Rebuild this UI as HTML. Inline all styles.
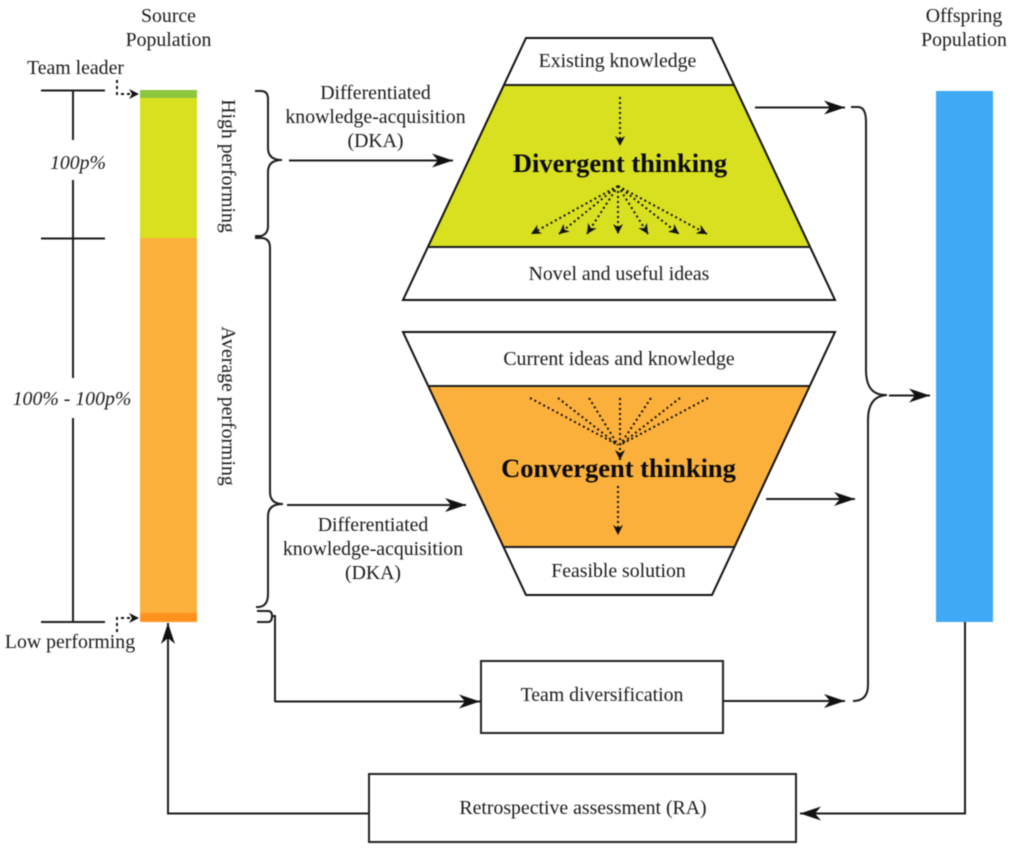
<!DOCTYPE html>
<html><head><meta charset="utf-8">
<style>
html,body{margin:0;padding:0;background:#fff;width:1017px;height:849px;overflow:hidden}
svg{display:block;filter:blur(0.45px)}
text{font-family:"Liberation Serif",serif;font-size:19.800px;fill:#1a1a1a;text-anchor:middle}
.b{font-weight:bold;font-size:26.500px;fill:#0a0a0a}
.i{font-style:italic}
.l{fill:none;stroke:#1c1c1c;stroke-width:2}
.d{fill:none;stroke:#111;stroke-width:2;stroke-dasharray:2 3}
.d2{fill:none;stroke:#111;stroke-width:2;stroke-dasharray:3 3}
</style></head>
<body>
<svg width="1017" height="849" viewBox="0 0 1017 849" xmlns="http://www.w3.org/2000/svg">
<defs>
<marker id="a" markerUnits="userSpaceOnUse" markerWidth="22" markerHeight="14" refX="21" refY="7" orient="auto"><path d="M0 0L21 7L0 14L6 7Z" fill="#111"/></marker>
<marker id="s" markerUnits="userSpaceOnUse" markerWidth="11" markerHeight="10" refX="10" refY="5" orient="auto"><path d="M0 0L10 5L0 10L3 5Z" fill="#111"/></marker>
</defs>

<!-- source bar -->
<rect x="140" y="90" width="57" height="8" fill="#8cc63f"/>
<rect x="140" y="98" width="57" height="140" fill="#d8e020"/>
<rect x="140" y="238" width="57" height="375" fill="#fbb03b"/>
<rect x="140" y="613" width="57" height="9" fill="#ff931e"/>
<!-- offspring bar -->
<rect x="936" y="91" width="57" height="531" fill="#3fa9f5"/>

<!-- top trapezoid -->
<path d="M504 85H734L810 247H428Z" fill="#d8e020"/>
<path d="M526 38H712L835 300H403Z" fill="none" stroke="#111" stroke-width="2"/>
<path d="M504 85H734M428 247H810" class="l"/>
<!-- bottom trapezoid -->
<path d="M428 386H810L734 547H504Z" fill="#fbb03b"/>
<path d="M403 332H835L712 595H526Z" fill="none" stroke="#111" stroke-width="2"/>
<path d="M428 386H810M504 547H734" class="l"/>

<!-- left scale -->
<path d="M41 90.500H105M41 238.500H105M41 622H105M73 90V140M73 180V378M73 418V622" class="l"/>
<text class="i" x="78" y="169">100p%</text>
<text class="i" x="72" y="405">100% - 100p%</text>

<!-- headings -->
<text x="168.500" y="22">Source</text>
<text x="168.500" y="46">Population</text>
<text x="964" y="22">Offspring</text>
<text x="964" y="46">Population</text>
<text x="75.500" y="74">Team leader</text>
<text x="70" y="648">Low performing</text>
<text transform="translate(222 166) rotate(90)">High performing</text>
<text transform="translate(222 406) rotate(90)">Average performing</text>

<!-- dotted leader arrows -->
<path d="M117 80V94H139" class="d2" marker-end="url(#s)"/>
<path d="M117 632V618H139" class="d2" marker-end="url(#s)"/>

<!-- braces -->
<path d="M255 91H261Q268 91 268 99V148Q268 160 282 160Q268 160 268 172V226Q268 234 261 236H255" class="l"/>
<path d="M255 238H261Q270 238 270 248V492Q270 504 283 504Q268 504 268 516V594Q268 606 259 607H256" class="l"/>
<path d="M257 611H268Q272 611 272 616Q272 622 268 622H257M272 616H275V702" class="l"/>
<path d="M851 107H858Q866 107 866 122V370Q866 396 887 395Q868 396 868 420V685Q868 701 853 701" class="l" stroke-width="1.800"/>

<!-- arrows -->
<path d="M289 160.500H453" class="l" marker-end="url(#a)" stroke-width="2.200"/>
<path d="M287 505H466" class="l" marker-end="url(#a)"/>
<path d="M755 107.500H845" class="l" marker-end="url(#a)" stroke-width="2.200"/>
<path d="M766 499H855" class="l" marker-end="url(#a)"/>
<path d="M889 395.500H930" class="l" marker-end="url(#a)"/>
<path d="M275 701.500H480" class="l" marker-end="url(#a)"/>
<path d="M724 701H845" class="l" marker-end="url(#a)"/>
<path d="M965 622V813.500H800" class="l" marker-end="url(#a)"/>
<path d="M369 813.500H168V623" class="l" marker-end="url(#a)"/>

<!-- boxes -->
<rect x="481" y="661" width="242" height="72" fill="#fff" stroke="#222" stroke-width="2"/>
<rect x="369" y="774" width="427" height="68" fill="#fff" stroke="#222" stroke-width="2"/>
<text x="602" y="701">Team diversification</text>
<text x="583" y="814">Retrospective assessment (RA)</text>

<!-- trapezoid text -->
<text x="617.500" y="67">Existing knowledge</text>
<text x="619" y="280">Novel and useful ideas</text>
<text x="619" y="365">Current ideas and knowledge</text>
<text x="618.500" y="577">Feasible solution</text>
<text class="b" x="620" y="172">Divergent thinking</text>
<text class="b" x="618.500" y="477">Convergent thinking</text>

<text x="375.500" y="99">Differentiated</text>
<text x="375.500" y="123">knowledge-acquisition</text>
<text x="375.500" y="147">(DKA)</text>
<text x="373" y="531">Differentiated</text>
<text x="373" y="555">knowledge-acquisition</text>
<text x="373" y="579">(DKA)</text>

<!-- divergent dotted arrows -->
<path d="M620 97V146" class="d" marker-end="url(#s)"/>
<path d="M618 186L531 234" class="d" marker-end="url(#s)"/>
<path d="M618 186L559 234" class="d" marker-end="url(#s)"/>
<path d="M618 186L587 234" class="d" marker-end="url(#s)"/>
<path d="M618 186V234" class="d" marker-end="url(#s)"/>
<path d="M618 186L648 234" class="d" marker-end="url(#s)"/>
<path d="M618 186L679 234" class="d" marker-end="url(#s)"/>
<path d="M618 186L707 234" class="d" marker-end="url(#s)"/>

<!-- convergent dotted lines -->
<path d="M530 398L618 445" class="d"/>
<path d="M558 398L618 445" class="d"/>
<path d="M589 398L618 445" class="d"/>
<path d="M620 398V460" class="d" marker-end="url(#s)"/>
<path d="M651 398L620 445" class="d"/>
<path d="M680 398L620 445" class="d"/>
<path d="M708 398L620 445" class="d"/>
<path d="M618 486V535" class="d" marker-end="url(#s)"/>
</svg>
</body></html>
